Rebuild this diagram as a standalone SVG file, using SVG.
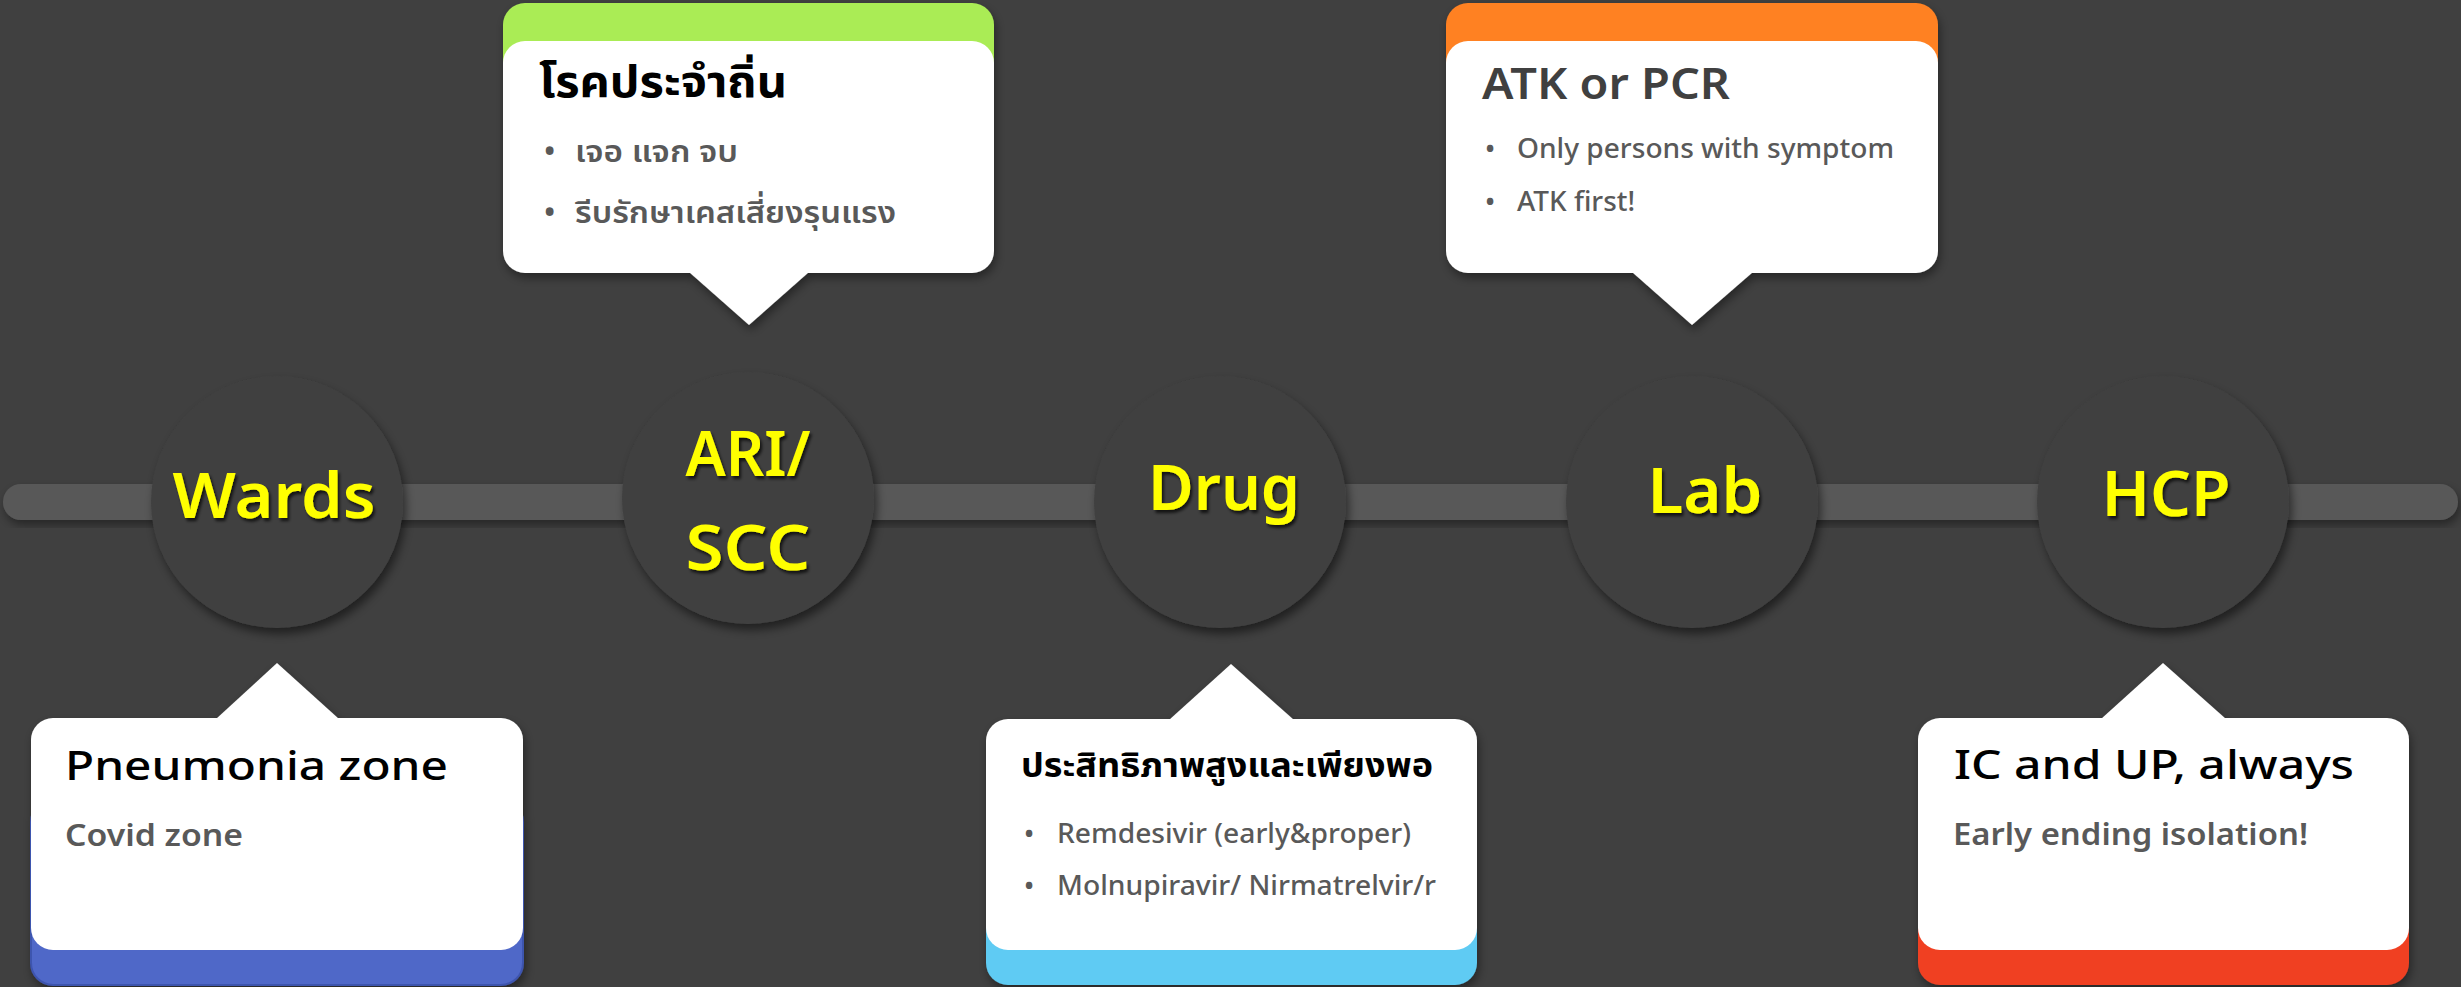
<svg xmlns="http://www.w3.org/2000/svg" width="2461" height="987" viewBox="0 0 2461 987">
<defs>
<style>
.bg{fill:#404040}
.bar{fill:#595959}
.disc{fill:#404040}
.lbl{font-family:"Noto Sans","Noto Sans Thai",sans-serif;font-weight:600;font-size:64px;fill:#FFFF00;text-anchor:middle}
.card{fill:#FFFFFF}
.title{font-family:"Noto Sans","Noto Sans Thai",sans-serif;font-size:40px;fill:#000000;font-weight:500}
.sub{font-family:"Noto Sans","Noto Sans Thai",sans-serif;font-size:30px;fill:#595959;font-weight:600}
.item{font-family:"Noto Sans","Noto Sans Thai",sans-serif;font-size:27px;fill:#595959;font-weight:500}
.thai{font-family:"Noto Sans Thai","Noto Sans","Noto Sans CJK SC",sans-serif}
</style>
<filter id="discShadow" x="-20%" y="-20%" width="150%" height="150%">
<feDropShadow dx="3" dy="6" stdDeviation="5" flood-color="#000" flood-opacity="0.5"/>
</filter>
<filter id="cardShadow" x="-10%" y="-10%" width="120%" height="130%">
<feDropShadow dx="2" dy="5" stdDeviation="5" flood-color="#000" flood-opacity="0.4"/>
</filter>
<filter id="txtShadow" x="-10%" y="-10%" width="120%" height="130%">
<feDropShadow dx="2" dy="3" stdDeviation="1.5" flood-color="#000" flood-opacity="0.7"/>
</filter>
</defs>
<rect class="bg" x="0" y="0" width="2461" height="987"/>

<g id="connectors">
<rect class="bar" x="3" y="484" width="2455" height="36" rx="18" filter="url(#cardShadow)"/>
</g>

<g id="node-wards">
<circle class="disc" cx="277" cy="502" r="126" filter="url(#discShadow)"/>
<text class="lbl" x="274" y="518" filter="url(#txtShadow)" textLength="203" lengthAdjust="spacingAndGlyphs">Wards</text>
</g>
<g id="node-ari">
<circle class="disc" cx="748" cy="498" r="126" filter="url(#discShadow)"/>
<text class="lbl" x="748" y="476" filter="url(#txtShadow)" textLength="125" lengthAdjust="spacingAndGlyphs">ARI/</text>
<text class="lbl" x="748" y="570" filter="url(#txtShadow)" textLength="125" lengthAdjust="spacingAndGlyphs">SCC</text>
</g>
<g id="node-drug">
<circle class="disc" cx="1220" cy="502" r="126" filter="url(#discShadow)"/>
<text class="lbl" x="1224" y="510" filter="url(#txtShadow)" textLength="152" lengthAdjust="spacingAndGlyphs">Drug</text>
</g>
<g id="node-lab">
<circle class="disc" cx="1692" cy="502" r="126" filter="url(#discShadow)"/>
<text class="lbl" x="1705" y="513" filter="url(#txtShadow)" textLength="115" lengthAdjust="spacingAndGlyphs">Lab</text>
</g>
<g id="node-hcp">
<circle class="disc" cx="2163" cy="502" r="126" filter="url(#discShadow)"/>
<text class="lbl" x="2166" y="516" filter="url(#txtShadow)" textLength="129" lengthAdjust="spacingAndGlyphs">HCP</text>
</g>

<g id="callout-wards" filter="url(#cardShadow)">
<rect x="31" y="800" width="492" height="185" rx="22" fill="#4F67C8" stroke="#3E54AE" stroke-width="2"/>
<rect class="card" x="31" y="718" width="492" height="232" rx="22"/>
<polygon class="card" points="216,719 339,719 277,663"/>
</g>
<g id="callout-wards-text">
<text class="title" x="65" y="780" textLength="383" lengthAdjust="spacingAndGlyphs">Pneumonia zone</text>
<text class="sub" x="65" y="846" textLength="178" lengthAdjust="spacingAndGlyphs">Covid zone</text>
</g>

<g id="callout-ari" filter="url(#cardShadow)">
<rect x="503" y="3" width="491" height="160" rx="22" fill="#AAEC55"/>
<rect class="card" x="503" y="41" width="491" height="232" rx="22"/>
<polygon class="card" points="689,272 809,272 749,325"/>
</g>
<g id="callout-ari-text">
<text class="title thai" x="539" y="97" style="font-weight:700;font-size:44px" textLength="248" lengthAdjust="spacingAndGlyphs">โรคประจำถิ่น</text>
<text class="sub" x="544" y="162">•</text>
<text class="sub thai" x="575" y="162" style="font-weight:600;font-size:31px" textLength="163" lengthAdjust="spacingAndGlyphs">เจอ แจก จบ</text>
<text class="sub" x="544" y="223">•</text>
<text class="sub thai" x="575" y="223" style="font-weight:600;font-size:31px" textLength="321" lengthAdjust="spacingAndGlyphs">รีบรักษาเคสเสี่ยงรุนแรง</text>
</g>

<g id="callout-drug" filter="url(#cardShadow)">
<rect x="986" y="800" width="491" height="185" rx="22" fill="#5ECBF3"/>
<rect class="card" x="986" y="719" width="491" height="231" rx="22"/>
<polygon class="card" points="1169,720 1294,720 1231,664"/>
</g>
<g id="callout-drug-text">
<text class="title thai" x="1021" y="777" style="font-weight:700;font-size:34px" textLength="412" lengthAdjust="spacingAndGlyphs">ประสิทธิภาพสูงและเพียงพอ</text>
<text class="item" x="1024" y="843">•</text>
<text class="item" x="1057" y="843" textLength="354" lengthAdjust="spacingAndGlyphs">Remdesivir (early&amp;proper)</text>
<text class="item" x="1024" y="895">•</text>
<text class="item" x="1057" y="895" textLength="379" lengthAdjust="spacingAndGlyphs">Molnupiravir/ Nirmatrelvir/r</text>
</g>

<g id="callout-lab" filter="url(#cardShadow)">
<rect x="1446" y="3" width="492" height="160" rx="22" fill="#FF8122"/>
<rect class="card" x="1446" y="41" width="492" height="232" rx="22"/>
<polygon class="card" points="1632,272 1753,272 1692,325"/>
</g>
<g id="callout-lab-text">
<text class="title" x="1482" y="99" style="fill:#404040;font-size:43px;font-weight:600" textLength="248" lengthAdjust="spacingAndGlyphs">ATK or PCR</text>
<text class="item" x="1485" y="158">•</text>
<text class="item" x="1517" y="158" textLength="377" lengthAdjust="spacingAndGlyphs">Only persons with symptom</text>
<text class="item" x="1485" y="211">•</text>
<text class="item" x="1517" y="211" textLength="118" lengthAdjust="spacingAndGlyphs">ATK first!</text>
</g>

<g id="callout-hcp" filter="url(#cardShadow)">
<rect x="1918" y="800" width="491" height="185" rx="22" fill="#F04024"/>
<rect class="card" x="1918" y="718" width="491" height="232" rx="22"/>
<polygon class="card" points="2101,719 2226,719 2163,663"/>
</g>
<g id="callout-hcp-text">
<text class="title" x="1954" y="779" textLength="400" lengthAdjust="spacingAndGlyphs">IC and UP, always</text>
<text class="sub" x="1953" y="845" textLength="355" lengthAdjust="spacingAndGlyphs">Early ending isolation!</text>
</g>
</svg>
